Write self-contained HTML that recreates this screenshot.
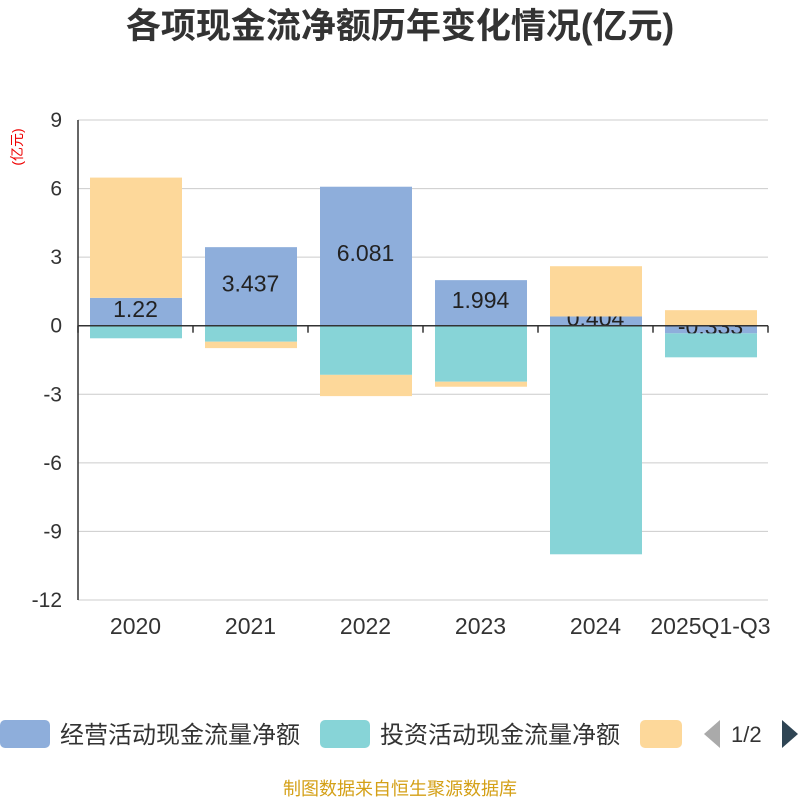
<!DOCTYPE html>
<html><head><meta charset="utf-8"><style>
body{margin:0;background:#fff;font-family:"Liberation Sans","Noto Sans CJK SC",sans-serif}
</style></head><body>
<svg id="c" width="800" height="800" xmlns="http://www.w3.org/2000/svg" font-family="Liberation Sans, Noto Sans CJK SC, sans-serif">
<text x="400" y="38" text-anchor="middle" font-size="35" font-weight="bold" fill="#333">各项现金流净额历年变化情况(亿元)</text>
<text transform="translate(22,147) rotate(-90)" text-anchor="middle" font-size="14" fill="#e00">(亿元)</text>
<g id="grid"></g><g id="bars"></g><g id="axes"></g>
<g>
<rect x="0" y="720" width="50" height="28" rx="5" fill="#8eaedb"/>
<text x="60" y="743" font-size="24" fill="#333">经营活动现金流量净额</text>
<rect x="320" y="720" width="50" height="28" rx="5" fill="#87d4d7"/>
<text x="380" y="743" font-size="24" fill="#333">投资活动现金流量净额</text>
<rect x="640" y="720" width="42" height="28" rx="5" fill="#fdd89a"/>
<polygon points="720,720 720,748 704,734" fill="#aaa"/>
<text x="731" y="742" font-size="22" fill="#333">1/2</text>
<polygon points="782,720 782,748 798,734" fill="#2f4554"/>
</g>
<text x="400" y="795" text-anchor="middle" font-size="18" fill="#d4a017">制图数据来自恒生聚源数据库</text>
</svg>
<script>
const categories=["2020","2021","2022","2023","2024","2025Q1-Q3"];
const operating=[1.22,3.437,6.081,1.994,0.404,-0.333];
const investing=[-0.55,-0.7,-2.15,-2.45,-10.0,-1.05];
const financing=[5.26,-0.28,-0.93,-0.22,2.2,0.68];
const yTicks=[9,6,3,0,-3,-6,-9,-12];
const NS="http://www.w3.org/2000/svg";
const x0=78,x1=768,yTop=120,yBot=600,ymax=9,ymin=-12;
const bw=(x1-x0)/categories.length;
const Y=v=>yTop+(ymax-v)/(ymax-ymin)*(yBot-yTop);
const X=i=>x0+bw*i;
function el(t,a,p){const e=document.createElementNS(NS,t);for(const k in a)e.setAttribute(k,a[k]);document.getElementById(p).appendChild(e);return e;}
yTicks.forEach(t=>{
const l=el('line',{x1:x0,x2:x1,y1:Y(t),y2:Y(t),stroke:'#ccc','stroke-width':1},'grid');


const tx=el('text',{x:62,y:Y(t)+7,'text-anchor':'end','font-size':21,fill:'#333'},'axes');
tx.textContent=t;


});
const pos=categories.map(()=>0),neg=categories.map(()=>0);
function stack(vals,color,name,label){
vals.forEach((v,i)=>{
let a,b;
if(v>=0){a=pos[i];b=pos[i]+v;pos[i]=b;}else{a=neg[i];b=neg[i]+v;neg[i]=b;}
const r=el('rect',{x:X(i)+12,width:bw-23,y:Math.min(Y(a),Y(b)),height:Math.abs(Y(a)-Y(b)),fill:color},'bars');


if(label){
const t=el('text',{x:X(i)+bw/2,y:(Y(a)+Y(b))/2+5,'text-anchor':'middle','font-size':23,fill:'#222'},'bars');
t.textContent=v;


}
});
}
stack(operating,'#8eaedb','operating',true);
stack(investing,'#87d4d7','investing',false);
stack(financing,'#fdd89a','financing',false);
const ax=el('line',{x1:x0,x2:x0,y1:yTop,y2:yBot,stroke:'#333','stroke-width':1.5},'axes');


const xa=el('line',{x1:x0,x2:x1,y1:Y(0),y2:Y(0),stroke:'#333','stroke-width':1.5},'axes');


for(let i=0;i<=categories.length;i++){
const tk=el('line',{x1:X(i),x2:X(i),y1:Y(0),y2:Y(0)+7,stroke:'#333','stroke-width':1.5},'axes');


}
categories.forEach((c,i)=>{
const t=el('text',{x:X(i)+bw/2,y:634,'text-anchor':'middle','font-size':23,fill:'#333'},'axes');
t.textContent=c;


});
</script>
</body></html>
